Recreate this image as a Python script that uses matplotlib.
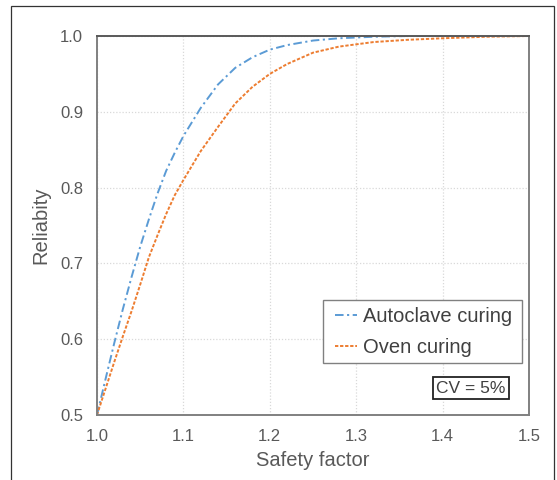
import matplotlib
matplotlib.use("Agg")
import matplotlib.pyplot as plt
from matplotlib.patches import Rectangle

plt.rcParams['font.family'] = ['Liberation Sans', 'DejaVu Sans']

# Data
sf_auto = [1.00, 1.01, 1.02, 1.03, 1.04, 1.05, 1.06, 1.07, 1.08, 1.09, 1.10,
           1.12, 1.14, 1.16, 1.18, 1.20, 1.22, 1.25, 1.28, 1.32, 1.36, 1.40,
           1.45, 1.50]
rel_auto = [0.500, 0.548, 0.595, 0.640, 0.682, 0.722, 0.758, 0.792, 0.822,
            0.846, 0.868, 0.905, 0.936, 0.958, 0.972, 0.982, 0.988, 0.994,
            0.997, 0.999, 1.000, 1.000, 1.000, 1.000]

sf_oven = [1.00, 1.01, 1.02, 1.03, 1.04, 1.05, 1.06, 1.07, 1.08, 1.09, 1.10,
           1.12, 1.14, 1.16, 1.18, 1.20, 1.22, 1.25, 1.28, 1.32, 1.36, 1.40,
           1.45, 1.50]
rel_oven = [0.500, 0.535, 0.570, 0.604, 0.637, 0.672, 0.708, 0.737, 0.765,
            0.790, 0.810, 0.848, 0.880, 0.911, 0.933, 0.950, 0.963, 0.978,
            0.986, 0.992, 0.995, 0.997, 0.999, 1.000]

labels = ["Autoclave curing", "Oven curing"]
x_ticks = [1.0, 1.1, 1.2, 1.3, 1.4, 1.5]
y_ticks = [0.5, 0.6, 0.7, 0.8, 0.9, 1.0]
annotation = "CV = 5%"

BLUE = "#5B9BD5"
ORANGE = "#ED7D31"
TXT = "#595959"

fig = plt.figure(figsize=(5.57, 4.8), dpi=100)
ax = fig.add_axes([97/557, 1 - 415/480, 432/557, 379/480])

ax.plot(sf_auto, rel_auto, color=BLUE, lw=1.4,
        linestyle=(0, (4.4, 1.8, 1.1, 1.8)), label=labels[0])
ax.plot(sf_oven, rel_oven, color=ORANGE, lw=1.4,
        linestyle=(0, (1.7, 0.9)), label=labels[1])

ax.set_xlim(1.0, 1.5)
ax.set_ylim(0.5, 1.0)
ax.set_xticks(x_ticks)
ax.set_yticks(y_ticks)
ax.set_xticklabels([f"{v:.1f}" for v in x_ticks])
ax.set_yticklabels([f"{v:.1f}" for v in y_ticks])
ax.tick_params(axis='both', length=0, labelsize=12, colors=TXT)
ax.tick_params(axis='x', pad=10)
ax.tick_params(axis='y', pad=10)

ax.grid(True, color="#D9D9D9", linestyle=(0, (1, 1.5)), lw=0.9)
ax.set_axisbelow(True)

for s in ax.spines.values():
    s.set_color("#808080")
    s.set_linewidth(1.4)
ax.spines['top'].set_color("#595959")

ax.set_xlabel("Safety factor", fontsize=14.5, color=TXT, labelpad=5)
ax.set_ylabel("Reliabity", fontsize=14.5, color=TXT, labelpad=7)

# legend frame (Excel-like: wide side padding, tight top/bottom)
ax.add_patch(Rectangle((0.523, 0.137), 0.4606, 0.166, transform=ax.transAxes,
                       facecolor='white', edgecolor="#808080", lw=1.0,
                       zorder=4))
leg = ax.legend(loc='center', bbox_to_anchor=(0.755, 0.220),
                borderaxespad=0, fontsize=14.5, handlelength=1.1,
                handletextpad=0.3, labelspacing=0.6, borderpad=0.0,
                frameon=False)
leg.set_zorder(5)
for t in leg.get_texts():
    t.set_color("#404040")

ax.text(0.946, 0.071, annotation, transform=ax.transAxes, ha='right',
        va='center', fontsize=12.5, color="#404040",
        bbox=dict(boxstyle='square,pad=0.2', facecolor='white',
                  edgecolor="#222222", lw=1.3))

# outer figure frame
fig.patches.append(Rectangle((11/557, -0.05), 543/557, 1.05 - 6/480,
                             transform=fig.transFigure, fill=False,
                             edgecolor="#333333", lw=0.9))

fig.savefig("out.png", dpi=100)
